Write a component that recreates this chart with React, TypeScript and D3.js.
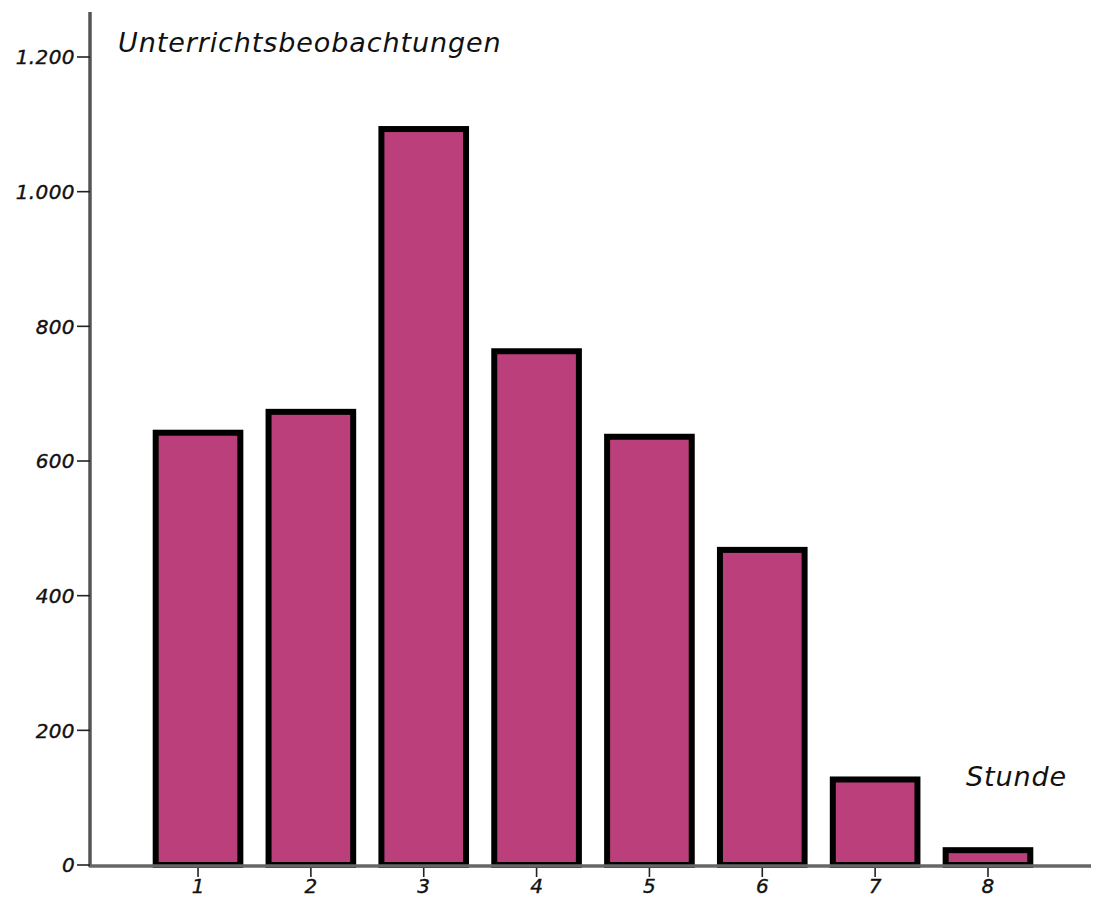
import React from "react";
import * as d3 from "d3";

const categories = ["1", "2", "3", "4", "5", "6", "7", "8"];
const values = [642, 673, 1093, 763, 636, 468, 127, 22];
const yTicks = [0, 200, 400, 600, 800, 1000, 1200];
const yTitle = "Unterrichtsbeobachtungen";
const xTitle = "Stunde";

const W = 1096;
const H = 898;

export default function App() {
  const y = d3.scaleLinear().domain([0, 1200]).range([865, 57]);
  const x = d3
    .scaleBand<string>()
    .domain(categories)
    .range([141.6, 1044.4])
    .paddingInner(0.25)
    .paddingOuter(0.125);
  const fmt = d3.formatLocale({ decimal: ",", thousands: ".", grouping: [3], currency: ["", "€"] }).format(",d");
  const font = "'DejaVu Sans', Verdana, sans-serif";
  return (
    <svg width={W} height={H} style={{ position: "absolute", left: 0, top: 0, background: "#fff" }}>
      {values.map((v, i) => (
        <rect
          key={i}
          x={x(categories[i])!}
          y={y(v)}
          width={x.bandwidth()}
          height={y(0) - y(v)}
          fill="#BB3F7B"
          stroke="#000"
          strokeWidth={6}
        />
      ))}
      {/* axes */}
      <line x1={90} x2={90} y1={12} y2={867} stroke="#555" strokeWidth={3.5} />
      <line x1={89} x2={1091} y1={866} y2={866} stroke="#666" strokeWidth={3.5} />
      {yTicks.map((t) => (
        <g key={t}>
          <line x1={77} x2={90} y1={y(t)} y2={y(t)} stroke="#222" strokeWidth={1.6} />
          <text
            x={75}
            y={y(t)}
            dy="0.36em"
            textAnchor="end"
            fontFamily={font}
            fontStyle="italic"
            fontSize={20}
            letterSpacing={0.4}
            stroke="#111"
            strokeWidth={0.4}
            fill="#111"
          >
            {fmt(t)}
          </text>
        </g>
      ))}
      {categories.map((c) => {
        const cx = x(c)! + x.bandwidth() / 2;
        return (
          <g key={c}>
            <line x1={cx} x2={cx} y1={868} y2={877} stroke="#222" strokeWidth={1.6} />
            <text
              x={cx}
              y={893}
              textAnchor="middle"
              fontFamily={font}
              fontStyle="italic"
              fontSize={20}
              stroke="#111"
              strokeWidth={0.4}
              fill="#111"
            >
              {c}
            </text>
          </g>
        );
      })}
      <text x={118} y={52} fontFamily={font} fontStyle="italic" fontSize={27} letterSpacing={0.9} fill="#111">
        {yTitle}
      </text>
      <text x={966} y={786} fontFamily={font} fontStyle="italic" fontSize={27} letterSpacing={0.9} fill="#111">
        {xTitle}
      </text>
    </svg>
  );
}
